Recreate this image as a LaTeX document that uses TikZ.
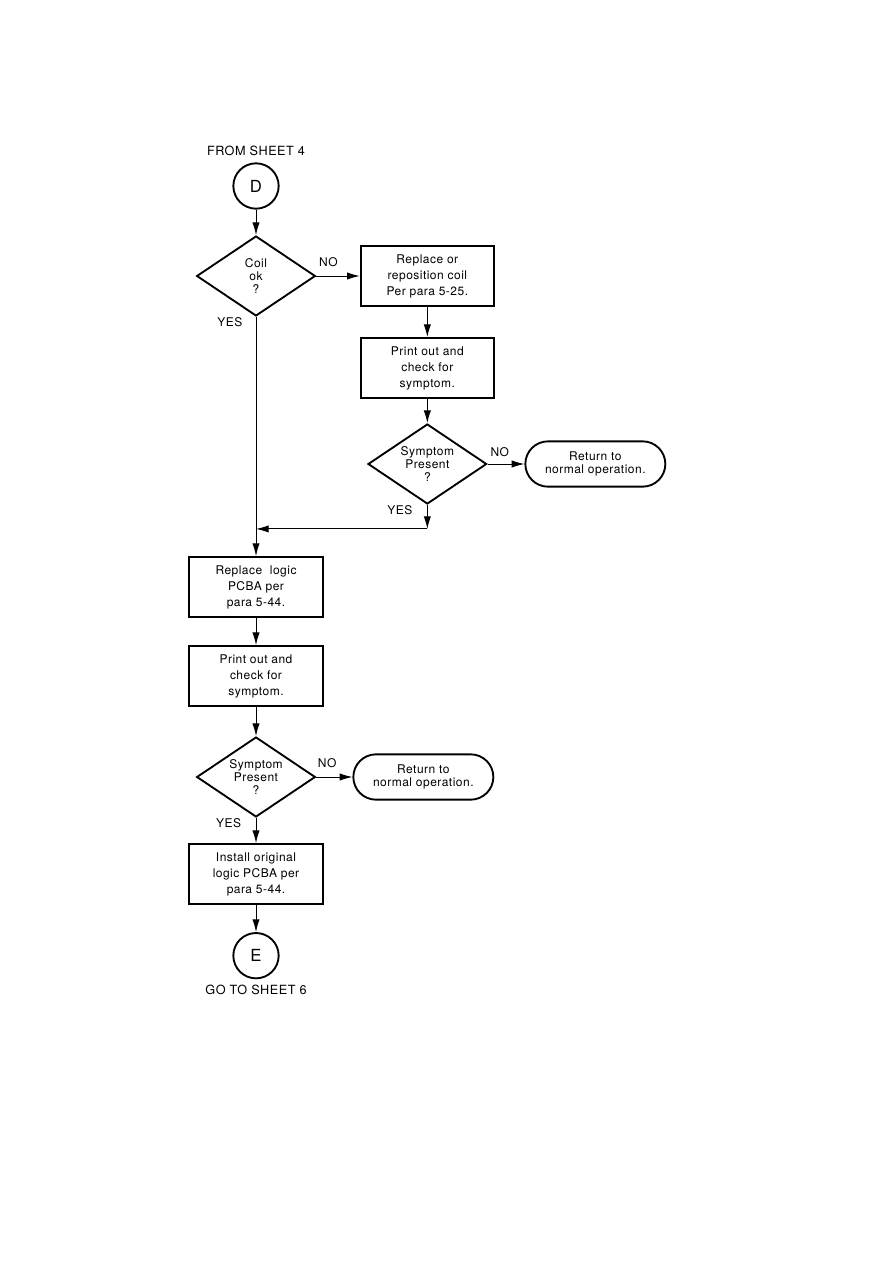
\documentclass[tikz,border=0pt]{standalone}
\usepackage{fontspec}
\setmainfont{TeX Gyre Heros}[LetterSpace=4]
\usetikzlibrary{arrows.meta, positioning, shapes.geometric, shapes.misc}

\begin{document}
\begin{tikzpicture}[
    node distance=20pt,
    block/.style={rectangle, draw, line width=1.4pt, align=center, minimum width=100pt, minimum height=45pt, inner sep=2pt, font=\fontsize{9}{12}\selectfont},
    decision/.style={diamond, draw, line width=1.4pt, align=center, aspect=1.5, minimum width=89pt, minimum height=60pt, inner sep=0pt, font=\fontsize{9}{9.5}\selectfont},
    terminal/.style={rounded rectangle, draw, line width=1.4pt, align=center, minimum width=109pt, minimum height=34pt, inner sep=2pt, font=\fontsize{9}{10}\selectfont},
    connector/.style={circle, draw, line width=1.4pt, minimum size=34pt, inner sep=0pt, font=\fontsize{12.5}{12.5}\selectfont},
    tag/.style={inner sep=0pt, font=\fontsize{9}{10}\selectfont},
    sheet/.style={inner sep=0pt, font=\fontsize{9.5}{11}\selectfont},
    arrow/.style={-{Latex[length=9.5pt,width=5.5pt]}, line width=0.75pt}
]
\useasboundingbox (0,0) rectangle (669.75pt,-947.25pt);

\node[connector] (from) at (192pt,-139.5pt) {D};
\node[sheet, above=4.5pt of from] (fromtxt) {FROM SHEET 4};
\node[decision, below=19.1pt of from] (coil) {Coil\\ok\\?};
\node[block, right=32.6pt of coil] (replace) {Replace or\\reposition coil\\Per para 5-25.};
\node[block, below=22.6pt of replace] (print1) {Print out and\\check for\\symptom.};
\node[decision, below=18.1pt of print1] (symp1) {Symptom\\Present\\?};
\node[terminal, right=27.6pt of symp1] (ret1) {Return to\\normal operation.};
\coordinate[below=18pt of symp1] (merge);

\node[block, below=179.35pt of coil] (logic) {Replace\ \ logic\\PCBA per\\para 5-44.};
\node[block, below=20.35pt of logic] (print2) {Print out and\\check for\\symptom.};
\node[decision, below=21.85pt of print2] (symp2) {Symptom\\Present\\?};
\node[terminal, right=27.1pt of symp2] (ret2) {Return to\\normal operation.};
\node[block, below=18.85pt of symp2] (install) {Install original\\logic PCBA per\\para 5-44.};
\node[connector, below=20.35pt of install] (goto) {E};
\node[sheet, below=4pt of goto] (gototxt) {GO TO SHEET 6};

% yes / no tags
\node[tag, above right=7pt and 2pt of coil.east] (no1) {NO};
\node[tag, below left=0.5pt and 10pt of coil.south] (yes1) {YES};
\node[tag, above right=5.5pt and 2pt of symp1.east] (no2) {NO};
\node[tag, below left=0.5pt and 11pt of symp1.south] (yes2) {YES};
\node[tag, above right=7pt and 1pt of symp2.east] (no3) {NO};
\node[tag, below left=0.5pt and 11pt of symp2.south] (yes3) {YES};

\draw[arrow] (from) -- (coil);
\draw[arrow] (coil) -- (replace);
\draw[arrow] (replace) -- (print1);
\draw[arrow] (print1) -- (symp1);
\draw[arrow] (symp1) -- (ret1);
\draw[arrow] (symp1) -- (merge);
\draw[arrow] (merge) -- (merge -| coil);
\draw[arrow] (coil) -- (logic);
\draw[arrow] (logic) -- (print2);
\draw[arrow] (print2) -- (symp2);
\draw[arrow] (symp2) -- (ret2);
\draw[arrow] (symp2) -- (install);
\draw[arrow] (install) -- (goto);
\end{tikzpicture}
\end{document}
